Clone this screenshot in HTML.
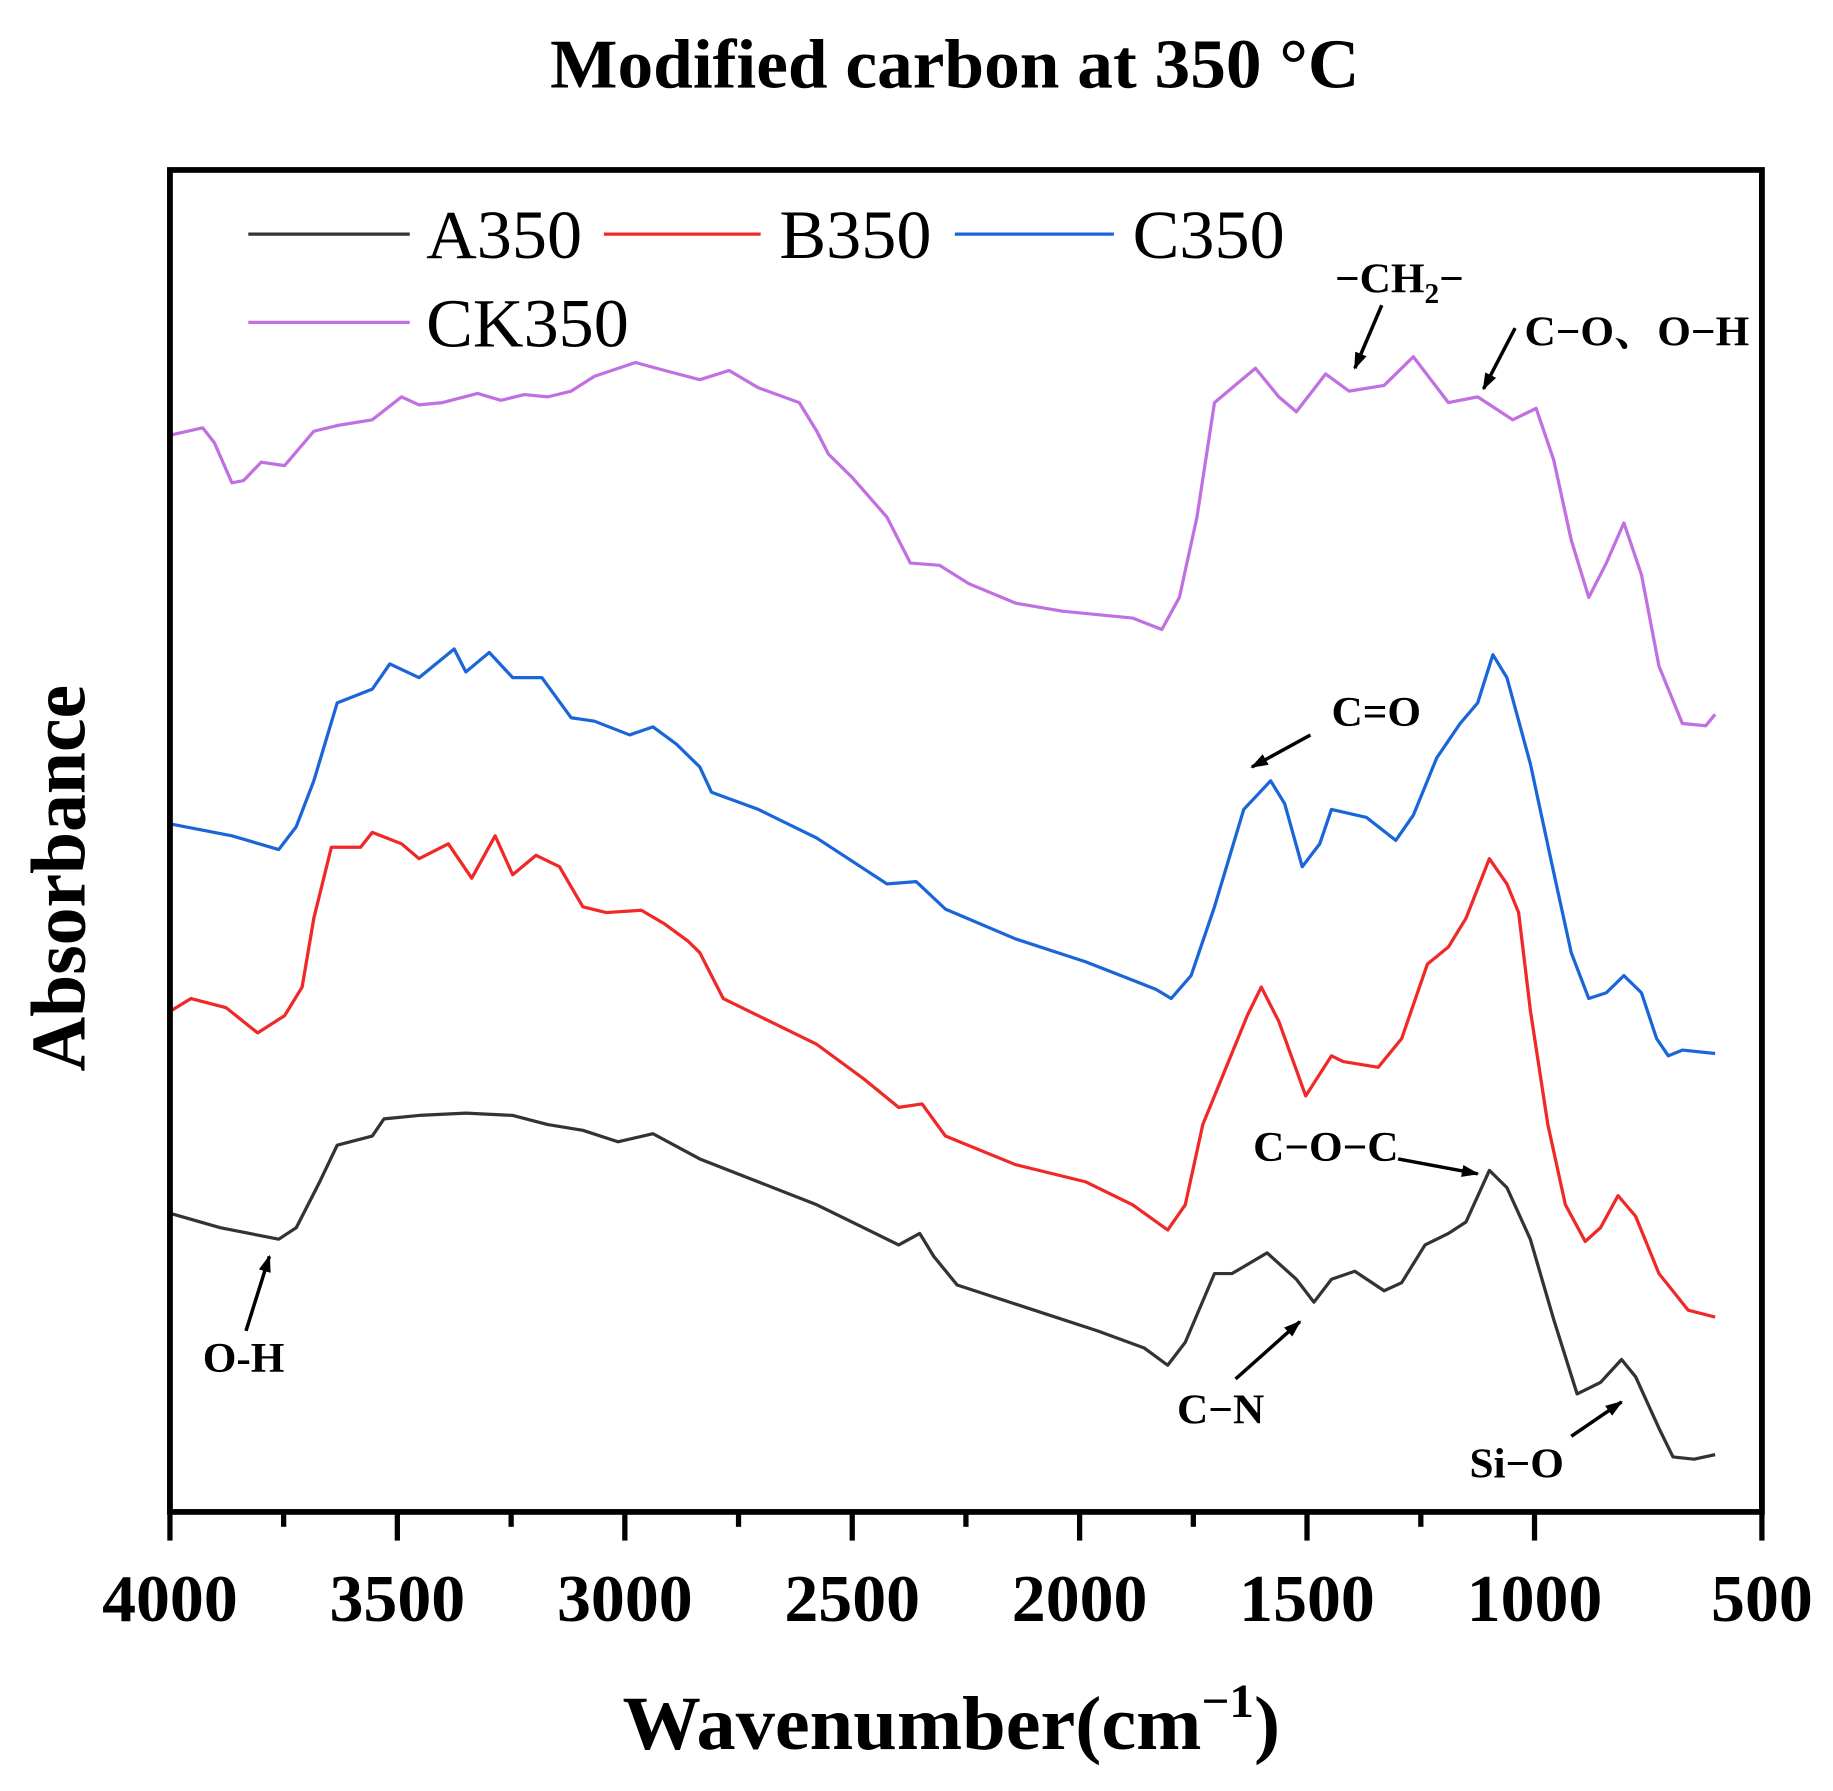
<!DOCTYPE html>
<html><head><meta charset="utf-8"><style>
html,body{margin:0;padding:0;background:#fff;}
svg{display:block;}
text{font-family:"Liberation Serif","Noto Serif CJK SC",serif;}
</style></head><body>
<svg width="1833" height="1791" viewBox="0 0 1833 1791" xmlns="http://www.w3.org/2000/svg">
<defs>
<marker id="ah" viewBox="0 0 10 10" refX="9" refY="5" markerWidth="5" markerHeight="5" orient="auto-start-reverse" markerUnits="strokeWidth">
<path d="M0,1.5 L10,5 L0,8.5 z" fill="#000"/></marker>
</defs>
<g transform="matrix(1.1697,0,0,1.146,-2,1.5)">
<text x="818" y="75" font-size="61" font-weight="bold" text-anchor="middle">Modified carbon at 350 °C</text>
<g fill="none" stroke-width="2.8" stroke-linejoin="round">
<polyline stroke="#c070e0" points="149,378 175,372 185,385 200,420 210,418 225,402 245,405 270,375 290,370 320,365 345,345 360,352 380,350 410,342 430,348 450,343 470,345 490,340 510,327 545,315 570,322 600,330 625,322 650,337 685,350 700,375 710,395 730,415 760,450 780,490 805,492 830,508 870,525 910,532 970,538 995,548 1010,520 1025,450 1040,350 1075,320 1095,345 1110,358 1135,325 1155,340 1185,335 1210,310 1225,330 1240,350 1265,345 1295,365 1315,355 1330,400 1345,470 1360,520 1375,490 1390,455 1405,500 1420,580 1440,630 1460,632 1468,622"/>
<polyline stroke="#1a66d9" points="149,718 200,728 240,740 255,720 270,680 290,612 320,600 335,578 360,590 390,565 400,585 420,568 440,590 465,590 490,625 510,628 540,640 560,633 580,648 600,668 610,690 650,705 700,730 760,770 785,768 810,792 870,818 930,838 990,862 1003,870 1020,850 1040,790 1065,705 1088,680 1100,700 1115,755 1130,735 1140,705 1170,712 1195,732 1210,710 1230,660 1250,630 1265,612 1278,570 1290,590 1310,665 1330,760 1345,830 1360,870 1375,865 1390,850 1405,865 1418,905 1428,920 1440,915 1468,918"/>
<polyline stroke="#f02828" points="149,880 165,870 195,878 222,900 245,885 260,860 270,800 285,738 310,738 320,725 345,735 360,748 385,735 405,765 425,728 440,762 460,745 480,755 500,790 520,795 550,793 570,805 590,820 600,830 620,870 660,890 700,910 740,940 770,965 790,962 810,990 870,1015 930,1030 970,1050 1000,1072 1015,1050 1030,980 1050,930 1068,885 1080,860 1095,890 1118,955 1140,920 1150,925 1180,930 1200,905 1222,840 1240,825 1255,800 1275,748 1290,770 1300,795 1310,880 1325,980 1340,1050 1357,1082 1370,1070 1385,1042 1400,1060 1420,1110 1445,1142 1468,1148"/>
<polyline stroke="#333" points="149,1058 190,1070 240,1080 255,1070 275,1030 290,998 320,990 330,975 360,972 400,970 440,972 470,980 500,985 530,995 560,988 600,1010 650,1030 700,1050 740,1070 770,1085 788,1075 800,1095 820,1120 880,1140 940,1160 980,1175 1000,1190 1015,1170 1040,1110 1055,1110 1085,1092 1110,1115 1125,1135 1140,1115 1160,1108 1185,1125 1200,1118 1220,1085 1240,1075 1255,1065 1275,1020 1290,1035 1310,1080 1330,1150 1350,1215 1370,1205 1388,1185 1400,1200 1420,1245 1432,1270 1450,1272 1468,1268"/>
</g>
<rect x="147" y="147" width="1361" height="1171" fill="none" stroke="#000" stroke-width="5"/>
<g stroke="#000" stroke-width="4.5">
<line x1="147" y1="1318" x2="147" y2="1343"/><line x1="341.4" y1="1318" x2="341.4" y2="1343"/><line x1="535.9" y1="1318" x2="535.9" y2="1343"/><line x1="730.3" y1="1318" x2="730.3" y2="1343"/><line x1="924.7" y1="1318" x2="924.7" y2="1343"/><line x1="1119.1" y1="1318" x2="1119.1" y2="1343"/><line x1="1313.6" y1="1318" x2="1313.6" y2="1343"/><line x1="1508" y1="1318" x2="1508" y2="1343"/>
<line x1="244.2" y1="1318" x2="244.2" y2="1331"/><line x1="438.7" y1="1318" x2="438.7" y2="1331"/><line x1="633.1" y1="1318" x2="633.1" y2="1331"/><line x1="827.5" y1="1318" x2="827.5" y2="1331"/><line x1="1021.9" y1="1318" x2="1021.9" y2="1331"/><line x1="1216.4" y1="1318" x2="1216.4" y2="1331"/>
</g>
<g font-size="58" font-weight="bold" text-anchor="middle">
<text x="147" y="1413">4000</text><text x="341.4" y="1413">3500</text><text x="535.9" y="1413">3000</text><text x="730.3" y="1413">2500</text><text x="924.7" y="1413">2000</text><text x="1119.1" y="1413">1500</text><text x="1313.6" y="1413">1000</text><text x="1508" y="1413">500</text>
</g>
<text x="815" y="1525" font-size="67" font-weight="bold" text-anchor="middle">Wavenumber(cm<tspan font-size="42" dy="-28">−1</tspan><tspan dy="28">)</tspan></text>
<text transform="translate(74,765) rotate(-90)" font-size="66" font-weight="bold" text-anchor="middle">Absorbance</text>
<g stroke-width="2.8">
<line x1="214" y1="203" x2="352" y2="203" stroke="#333"/>
<line x1="518" y1="203" x2="652" y2="203" stroke="#f02828"/>
<line x1="818" y1="203" x2="954" y2="203" stroke="#1a66d9"/>
<line x1="214" y1="280" x2="352" y2="280" stroke="#c070e0"/>
</g>
<g font-size="60">
<text x="366" y="224">A350</text><text x="668" y="224">B350</text><text x="970" y="224">C350</text><text x="366" y="301">CK350</text>
</g>
<g font-size="37" font-weight="bold">
<text x="1143" y="254">−CH<tspan font-size="25" dy="9">2</tspan><tspan dy="-9">−</tspan></text>
<text x="1305" y="300">C−O、O−H</text>
<text x="1140" y="632">C=O</text>
<text x="1073" y="1012">C−O−C</text>
<text x="175" y="1196">O-H</text>
<text x="1008" y="1241">C−N</text>
<text x="1258" y="1288">Si−O</text>
</g>
<g stroke="#000" stroke-width="3" marker-end="url(#ah)">
<line x1="1183" y1="265" x2="1160" y2="320"/>
<line x1="1297" y1="285" x2="1270" y2="338"/>
<line x1="1122" y1="640" x2="1072" y2="668"/>
<line x1="1197" y1="1010" x2="1265" y2="1023"/>
<line x1="212" y1="1160" x2="232" y2="1095"/>
<line x1="1058" y1="1202" x2="1113" y2="1152"/>
<line x1="1345" y1="1252" x2="1388" y2="1222"/>
</g>
</g>
</svg>
</body></html>
